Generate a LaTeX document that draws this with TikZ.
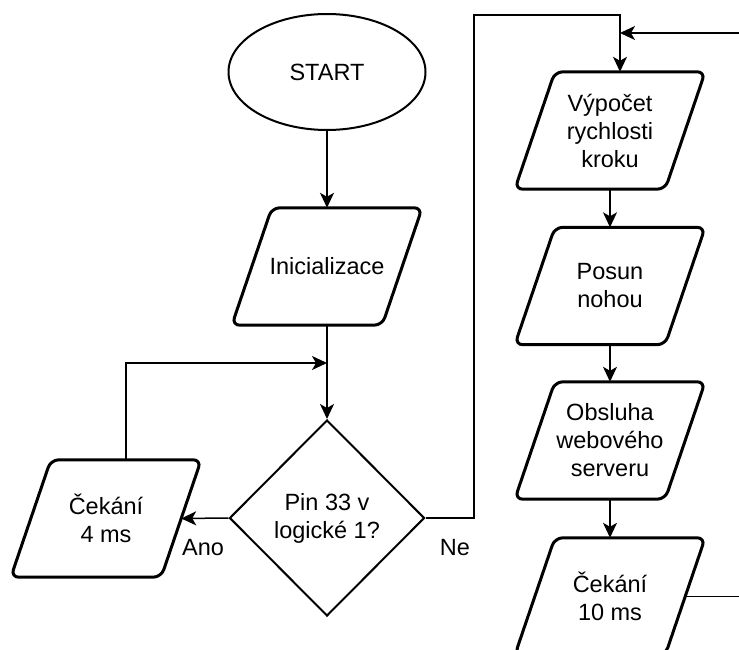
\documentclass[tikz,border=0pt]{standalone}
\usepackage{fontspec}
\setmainfont{Liberation Sans}
\usetikzlibrary{shapes.geometric,arrows.meta}
\begin{document}
\begin{tikzpicture}[x=1pt, y=-1pt,
    font=\fontsize{23.5}{28}\selectfont,
    term/.style={draw, ellipse, line width=2pt, minimum width=197pt, minimum height=116pt, inner sep=0pt},
    io/.style={minimum width=150pt, minimum height=117pt, inner sep=0pt, align=center},
    ioline/.style={line width=3pt, rounded corners=8pt},
    decision/.style={draw, diamond, line width=2pt, minimum width=195pt, minimum height=196pt, inner sep=0pt, align=center},
    link/.style={line width=1.5pt},
    flow/.style={link, -{Stealth[length=15pt, width=14pt, inset=4pt]}}]
    \useasboundingbox (0,0) rectangle (739,650);
    \clip (0,0) rectangle (739,650);
    \node[term] (start) at (327,72) {START};
    \node[io] (init) at (327,266.5) {Inicializace};
    \node[decision] (pin) at (327,518) {Pin 33 v\\logické 1?};
    \node[io] (wait4) at (106,518.5) {Čekání\\4 ms};
    \node[io] (calc) at (610,130.5) {Výpočet\\rychlosti\\kroku};
    \node[io] (move) at (610,286) {Posun\\nohou};
    \node[io] (web) at (610,440.5) {Obsluha\\webového\\serveru};
    \node[io] (wait10) at (610,596.5) {Čekání\\10 ms};
    \foreach \n in {init,wait4,calc,move,web,wait10}
        \draw[ioline] ([xshift=20pt]\n.north west) -- ([xshift=20pt]\n.north east)
            -- ([xshift=-20pt]\n.south east) -- ([xshift=-20pt]\n.south west) -- cycle;
    \coordinate (merge) at (327,363);
    \coordinate (top) at (474,15);
    \coordinate (back) at (760,33);
    \draw[flow] (start) -- (init);
    \draw[flow] (init) -- (pin);
    \draw[flow] ([xshift=20pt]wait4.north) |- (merge);
    \draw[flow] (pin.west) -- (wait4.east);
    \node at (203,548) {Ano};
    \draw[flow] (pin.east) -| (top) -| ([xshift=10pt]calc.north);
    \node at (455,548) {Ne};
    \draw[flow] (calc) -- (move);
    \draw[flow] (move) -- (web);
    \draw[flow] (web) -- (wait10);
    \draw[link] (wait10.east) -| (back);
    \draw[flow] (back) -- ([xshift=10pt]calc.north |- back);
\end{tikzpicture}
\end{document}
